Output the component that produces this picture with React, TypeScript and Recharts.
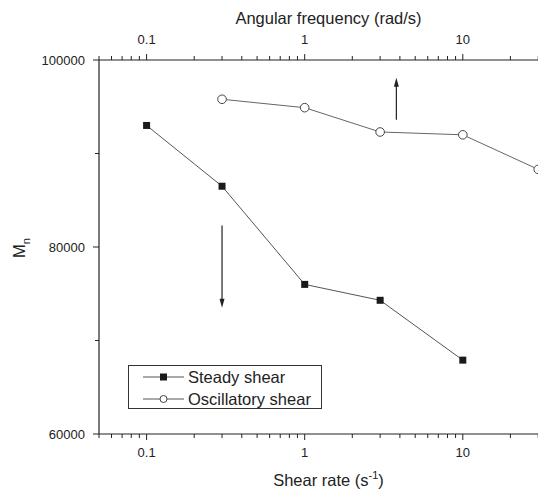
import { LineChart, Line, XAxis, YAxis, Legend, ReferenceLine, ReferenceDot } from 'recharts';

// steady shear: Mn vs shear rate (s^-1)
const steadyRate = [0.1, 0.3, 1, 3, 10];
const steadyMn = [93000, 86500, 76000, 74300, 67900];

// oscillatory shear: Mn vs angular frequency (rad/s)
const oscFreq = [0.3, 1, 3, 10, 30];
const oscMn = [95800, 94900, 92300, 92000, 88300];

const xTicks = [
  0.05, 0.06, 0.07, 0.08, 0.09,
  0.1, 0.2, 0.3, 0.4, 0.5, 0.6, 0.7, 0.8, 0.9,
  1, 2, 3, 4, 5, 6, 7, 8, 9,
  10, 20, 30, 40,
];
const xLabels = [0.1, 1, 10];
const yTicks = [60000, 70000, 80000, 90000, 100000];
const yLabels = [60000, 80000, 100000];

const steadyData = steadyRate.map((x, i) => ({ x, mn: steadyMn[i] }));
const oscData = oscFreq.map((x, i) => ({ x, mn: oscMn[i] }));

const FONT = '"Liberation Sans", Arial, sans-serif';
const INK = '#222';

const XTick = ({ x, y, payload, side }: any) => {
  const major = xLabels.includes(payload.value);
  const dir = side === 'top' ? -1 : 1;
  const len = major ? 6 : 4;
  return (
    <g>
      <line x1={x} x2={x} y1={y} y2={y + dir * len} stroke={INK} strokeWidth={1} />
      {major && (
        <text x={x} y={side === 'top' ? y - 16 : y + 23} textAnchor="middle" fontSize={13} fill={INK} fontFamily={FONT}>
          {String(payload.value)}
        </text>
      )}
    </g>
  );
};

const YTick = ({ x, y, payload }: any) => {
  const major = yLabels.includes(payload.value);
  const len = major ? 6 : 4;
  return (
    <g>
      <line x1={x} x2={x - len} y1={y} y2={y} stroke={INK} strokeWidth={1} />
      {major && (
        <text x={x - 14} y={y} dy="0.35em" textAnchor="end" fontSize={13} fill={INK} fontFamily={FONT}>
          {String(payload.value)}
        </text>
      )}
    </g>
  );
};

const Square = (props: any) => {
  const { cx, cy } = props;
  if (cx == null || cy == null) return null;
  return <rect x={cx - 3.5} y={cy - 3.5} width={7} height={7} fill="#1a1a1a" />;
};

const Circle = (props: any) => {
  const { cx, cy } = props;
  if (cx == null || cy == null) return null;
  return <circle cx={cx} cy={cy} r={4.3} fill="#fff" stroke="#444" strokeWidth={1} />;
};

const ArrowHead = ({ cx, cy, up }: any) => {
  if (cx == null || cy == null) return null;
  const d = up
    ? `M${cx},${cy} L${cx - 2.5},${cy + 9} L${cx + 2.5},${cy + 9} Z`
    : `M${cx},${cy} L${cx - 2.5},${cy - 9} L${cx + 2.5},${cy - 9} Z`;
  return <path d={d} fill={INK} />;
};

const renderLegend = () => (
  <svg width={194} height={44} style={{ display: 'block' }}>
    <rect x={0.5} y={0.5} width={193} height={43} fill="#fff" stroke="#333" strokeWidth={1} />
    <line x1={15} x2={56} y1={12} y2={12} stroke="#555" strokeWidth={1} />
    <rect x={32} y={8.5} width={7} height={7} fill="#1a1a1a" />
    <text x={60} y={17.5} fontSize={16.5} fill={INK} fontFamily={FONT}>Steady shear</text>
    <line x1={15} x2={56} y1={34} y2={34} stroke="#555" strokeWidth={1} />
    <circle cx={35.5} cy={34} r={3.5} fill="#fff" stroke="#444" strokeWidth={1} />
    <text x={60} y={39.5} fontSize={16.5} fill={INK} fontFamily={FONT}>Oscillatory shear</text>
  </svg>
);

const BottomTitle = ({ viewBox }: any) => (
  <text x={viewBox.x + viewBox.width / 2} y={viewBox.y + 52} textAnchor="middle" fontSize={16.5} fill={INK} fontFamily={FONT}>
    Shear rate (s
    <tspan dy={-7} fontSize={11}>-1</tspan>
    <tspan dy={7} fontSize={16.5}>)</tspan>
  </text>
);

const TopTitle = ({ viewBox }: any) => (
  <text x={viewBox.x + viewBox.width / 2} y={16} textAnchor="middle" fontSize={16.5} fill={INK} fontFamily={FONT}>
    Angular frequency (rad/s)
  </text>
);

const LeftTitle = () => (
  <text x={17} y={240} transform="rotate(-90, 17, 240)" textAnchor="middle" fontSize={16.5} fill={INK} fontFamily={FONT}>
    M<tspan dy={5} fontSize={11}>n</tspan>
  </text>
);

export default function App() {
  return (
    <div style={{ width: 538, height: 483, overflow: 'hidden', background: '#fff' }}>
      <LineChart width={560} height={483} margin={{ top: 0, right: 10, bottom: 0, left: 0 }}>
        <XAxis
          xAxisId="bottom"
          dataKey="x"
          type="number"
          scale="log"
          domain={[0.05, 40]}
          allowDataOverflow
          ticks={xTicks}
          interval={0}
          orientation="bottom"
          height={57}
          tickSize={0}
          tickMargin={0}
          tickLine={false}
          axisLine={{ stroke: INK, strokeWidth: 1.2 }}
          tick={<XTick side="bottom" />}
          label={<BottomTitle />}
        />
        <XAxis
          xAxisId="top"
          dataKey="x"
          type="number"
          scale="log"
          domain={[0.05, 40]}
          allowDataOverflow
          ticks={xTicks}
          interval={0}
          orientation="top"
          height={52}
          tickSize={0}
          tickMargin={0}
          tickLine={false}
          axisLine={{ stroke: INK, strokeWidth: 1.2 }}
          tick={<XTick side="top" />}
          label={<TopTitle />}
        />
        <YAxis
          yAxisId="left"
          type="number"
          domain={[60000, 100000]}
          allowDataOverflow
          ticks={yTicks}
          interval={0}
          width={91}
          tickSize={0}
          tickMargin={0}
          tickLine={false}
          axisLine={{ stroke: INK, strokeWidth: 1.2 }}
          tick={<YTick />}
          label={<LeftTitle />}
        />
        <Legend
          layout="vertical"
          align="center"
          verticalAlign="middle"
          content={renderLegend}
          wrapperStyle={{ position: 'absolute', left: 120, top: 357, width: 194, height: 44 }}
        />
        <Line
          xAxisId="bottom"
          yAxisId="left"
          data={steadyData}
          dataKey="mn"
          name="Steady shear"
          stroke="#555"
          strokeWidth={1}
          dot={<Square />}
          activeDot={false}
          isAnimationActive={false}
        />
        <Line
          xAxisId="top"
          yAxisId="left"
          data={oscData}
          dataKey="mn"
          name="Oscillatory shear"
          stroke="#666"
          strokeWidth={1}
          dot={<Circle />}
          activeDot={false}
          isAnimationActive={false}
        />
        {/* direction arrows */}
        <ReferenceLine
          xAxisId="bottom"
          yAxisId="left"
          segment={[{ x: 0.3, y: 82300 }, { x: 0.3, y: 74300 }]}
          stroke={INK}
          strokeWidth={1.2}
        />
        <ReferenceDot xAxisId="bottom" yAxisId="left" x={0.3} y={73500} shape={<ArrowHead />} />
        <ReferenceLine
          xAxisId="top"
          yAxisId="left"
          segment={[{ x: 3.8, y: 93600 }, { x: 3.8, y: 97300 }]}
          stroke={INK}
          strokeWidth={1.2}
        />
        <ReferenceDot xAxisId="top" yAxisId="left" x={3.8} y={98100} shape={<ArrowHead up />} />
      </LineChart>
    </div>
  );
}
